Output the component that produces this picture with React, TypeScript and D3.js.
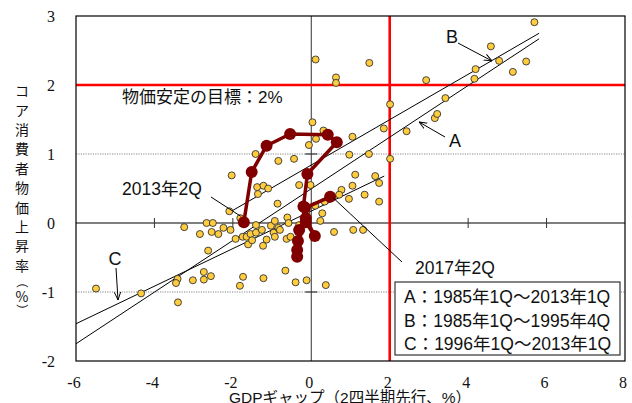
import React from 'react';
import * as d3 from 'd3';

// scatter: GDP gap (2Q ahead) vs core CPI, 1985Q1-2013Q1
const gdpGap = [0.11, 1.48, 0.63, 0.63, 2.93, 2.01, 0.03, 0.31, 0.12, -0.06, 1.05, 1.85, 2.43, 3.15, 3.21, 3.42, 4.16, 4.19, 4.58, 4.79, 5.14, 5.48, 5.69,
  -1.42, -0.84, -0.44, -2.03, -1.38, -1.22, -1.10, -1.36, -0.31, -0.02,
  0.97, 1.47, 2.01, 1.12, 1.63, 1.73, 1.05, 0.77, 0.71, 1.36, 0.96, 1.73,
  1.07, 1.32, 0.10, 0.34, 0.28, -0.13, 0.23, -0.17, 0.58, -0.12, 0.37,
  -2.09, -1.81, -0.86, -2.67, -2.51, -3.24, -2.84, -2.54, -2.37, -2.24, -2.06, -1.93, -1.75, -1.65, -1.61, -1.55, -1.51, -1.41, -1.41, -1.26, -1.23, -1.14, -1.03, -0.96, -0.93, -0.93, -0.84, -0.80, -0.61, -0.58, -0.63, -0.53, -0.31,
  -2.63, -2.74, -2.74, -2.56, -3.02, -3.41, -3.45, -3.40, -4.34, -5.49, -1.74, -1.82, -1.22, -0.66, -0.40];
const coreCpi = [2.37, 2.32, 2.11, 2.03, 2.07, 1.72, 1.46, 1.34, 1.22, 1.13, 1.25, 1.37, 1.33, 1.52, 1.58, 1.81, 2.09, 2.23, 2.56, 2.35, 2.19, 2.34, 2.91,
  1.00, 0.90, 0.93, 0.69, 0.52, 0.54, 0.50, 0.42, 0.55, 0.55,
  0.99, 1.00, 0.93, 0.70, 0.68, 0.58, 0.54, 0.48, 0.41, 0.41, 0.35, 0.31,
  -0.10, -0.10, 0.25, 0.31, 0.14, 0.14, 0.03, 0.03, -0.13, -0.83, -0.90,
  0.17, 0.07, 0.28, 0.00, 0.00, -0.06, -0.16, -0.13, -0.16, -0.07, -0.10, -0.23, -0.20, -0.20, -0.31, -0.16, -0.25, -0.03, -0.14, -0.10, -0.33, -0.24, -0.04, -0.14, 0.03, -0.20, -0.07, -0.10, 0.08, 0.00, -0.23, -0.20, -0.03,
  -0.40, -0.71, -0.82, -0.77, -0.83, -0.81, -0.87, -1.15, -1.02, -0.95, -0.78, -0.91, -0.80, -0.69, -0.86];

// 2013Q2 -> 2017Q2 path
const recentGap = [-1.72, -1.52, -1.14, -0.54, 0.42, 0.65, -0.10, -0.20, -0.14, 0.09, -0.14, -0.31, -0.34, -0.36, -0.36, -0.16, 0.48];
const recentCpi = [0.01, 0.74, 1.12, 1.29, 1.28, 1.17, 0.71, 0.24, 0.07, -0.19, 0.01, -0.10, -0.26, -0.39, -0.49, 0.22, 0.38];

// regression lines [x0, y0, x1, y1]
const lineA = [-6, -1.75, 5.81, 2.67];
const lineB = [-2.07, 0.16, 5.81, 2.75];
const lineC = [-6, -1.46, 1.86, 0.68];

const xTicks = [-6, -4, -2, 0, 2, 4, 6, 8];
const yTicks = [-2, -1, 0, 1, 2, 3];
const legendLabels = ['A：1985年1Q～2013年1Q', 'B：1985年1Q～1995年4Q', 'C：1996年1Q～2013年1Q'];
const yTitle = ['コ', 'ア', '消', '費', '者', '物', '価', '上', '昇', '率', '（', '%', '）'];
const target = 2;

const sans = "'Liberation Sans', Arial, 'Noto Sans CJK JP', sans-serif";
const serif = "'Liberation Serif', 'Times New Roman', serif";

export default function App() {
  const x = d3.scaleLinear().domain([-6, 8]).range([76, 625]);
  const y = d3.scaleLinear().domain([-2, 3]).range([361, 16]);
  const path = d3.line<number>().x((d, i) => x(recentGap[i])).y((d, i) => y(recentCpi[i]));

  const regLine = (l: number[], key: string) => (
    <line key={key} x1={x(l[0])} y1={y(l[1])} x2={x(l[2])} y2={y(l[3])} stroke="#000" strokeWidth={1} />
  );

  const yTitleY = [90, 110, 129, 148, 168, 187, 207, 226, 245, 265, 282, 296, 310];

  return (
    <svg width={632} height={403} style={{ position: 'absolute', left: 0, top: 0, background: '#fff' }}>
      <defs>
        <marker id="arr" viewBox="0 0 10 10" refX="10" refY="5" markerWidth="8" markerHeight="8" orient="auto" markerUnits="userSpaceOnUse">
          <path d="M0,1 L10,5 L0,9" fill="none" stroke="#000" strokeWidth={1.2} />
        </marker>
      </defs>

      {/* dotted grid at ±1 */}
      {[-1, 1].map(v => (
        <line key={v} x1={x(-6)} x2={x(8)} y1={y(v)} y2={y(v)} stroke="#888" strokeWidth={1.2} strokeDasharray="1.2,1.2" />
      ))}
      {/* zero axes */}
      <line x1={x(-6)} x2={x(8)} y1={y(0)} y2={y(0)} stroke="#555" strokeWidth={1.3} />
      <line x1={x(0)} x2={x(0)} y1={y(3)} y2={y(-2)} stroke="#444" strokeWidth={1.1} />
      {[-4, -2, 4, 6].map(v => (
        <line key={v} x1={x(v)} x2={x(v)} y1={y(0) - 5} y2={y(0) + 5} stroke="#333" strokeWidth={1} />
      ))}
      {[-1, 1].map(v => (
        <line key={v} x1={x(0) - 6} x2={x(0) + 6} y1={y(v)} y2={y(v)} stroke="#333" strokeWidth={1.2} />
      ))}

      {/* target lines */}
      <line x1={x(-6)} x2={x(8)} y1={y(target)} y2={y(target)} stroke="#f00" strokeWidth={2.6} />
      <line x1={x(target)} x2={x(target)} y1={y(3)} y2={y(-2)} stroke="#f00" strokeWidth={2.6} />

      {regLine(lineA, 'A')}
      {regLine(lineB, 'B')}
      {regLine(lineC, 'C')}

      {gdpGap.map((g, i) => (
        <circle key={i} cx={x(g)} cy={y(coreCpi[i])} r={3.5} fill="#FFCC3D" stroke="#333" strokeWidth={0.9} />
      ))}

      <path d={path(recentGap) || ''} fill="none" stroke="#800000" strokeWidth={3.5} strokeLinejoin="round" />
      {recentGap.map((g, i) => (
        <circle key={i} cx={x(g)} cy={y(recentCpi[i])} r={6} fill="#800000" />
      ))}

      {/* frame */}
      <rect x={x(-6)} y={y(3)} width={x(8) - x(-6)} height={y(-2) - y(3)} fill="none" stroke="#000" strokeWidth={1.2} />

      {/* annotations */}
      <g fontFamily={sans} fill="#111">
        <text x={122} y={103} fontSize={17}>物価安定の目標：2%</text>
        <text x={122} y={195} fontSize={17.5}>2013年2Q</text>
        <line x1={211} y1={197} x2={x(recentGap[0]) - 3} y2={y(recentCpi[0]) - 6} stroke="#000" strokeWidth={1} />
        <text x={415} y={274} fontSize={17.5}>2017年2Q</text>
        <line x1={402} y1={262} x2={x(recentGap[16]) + 3} y2={y(recentCpi[16]) + 1} stroke="#000" strokeWidth={1} />
        <text x={452} y={43} fontSize={18} textAnchor="middle">B</text>
        <line x1={458} y1={43} x2={492} y2={61} stroke="#000" strokeWidth={1} markerEnd="url(#arr)" />
        <text x={455} y={147} fontSize={18} textAnchor="middle">A</text>
        <line x1={445} y1={137} x2={419} y2={122} stroke="#000" strokeWidth={1} markerEnd="url(#arr)" />
        <text x={115} y={265} fontSize={18} textAnchor="middle">C</text>
        <line x1={116} y1={268} x2={118} y2={300} stroke="#000" strokeWidth={1} markerEnd="url(#arr)" />
      </g>

      {/* legend */}
      <rect x={395} y={282} width={225} height={73} fill="#fff" stroke="#333" strokeWidth={1.2} />
      {legendLabels.map((t, i) => (
        <text key={t} x={404} y={303 + i * 23.5} fontSize={17.5} fontFamily={sans} fill="#111">{t}</text>
      ))}

      {/* tick labels */}
      {yTicks.map(v => (
        <text key={v} x={55} y={y(v) + 6} fontSize={16} fontFamily={serif} textAnchor="end" fill="#111">{v}</text>
      ))}
      {xTicks.map(v => (
        <text key={v} x={x(v) - 2} y={388} fontSize={16} fontFamily={serif} textAnchor="middle" fill="#111">{v}</text>
      ))}

      {/* axis titles */}
      <text x={350} y={403} fontSize={15.5} fontFamily={sans} textAnchor="middle" fill="#111">GDPギャップ（2四半期先行、%）</text>
      {yTitle.map((c, i) => {
        const rotated = c === '（' || c === '）';
        return (
          <text key={i} x={22} y={yTitleY[i]} fontSize={rotated ? 12 : 14} fontFamily="'Noto Sans CJK JP', sans-serif"
            textAnchor="middle" dominantBaseline="central" fill="#111"
            transform={rotated ? `rotate(90 22 ${yTitleY[i]})` : undefined}>{c}</text>
        );
      })}
    </svg>
  );
}
